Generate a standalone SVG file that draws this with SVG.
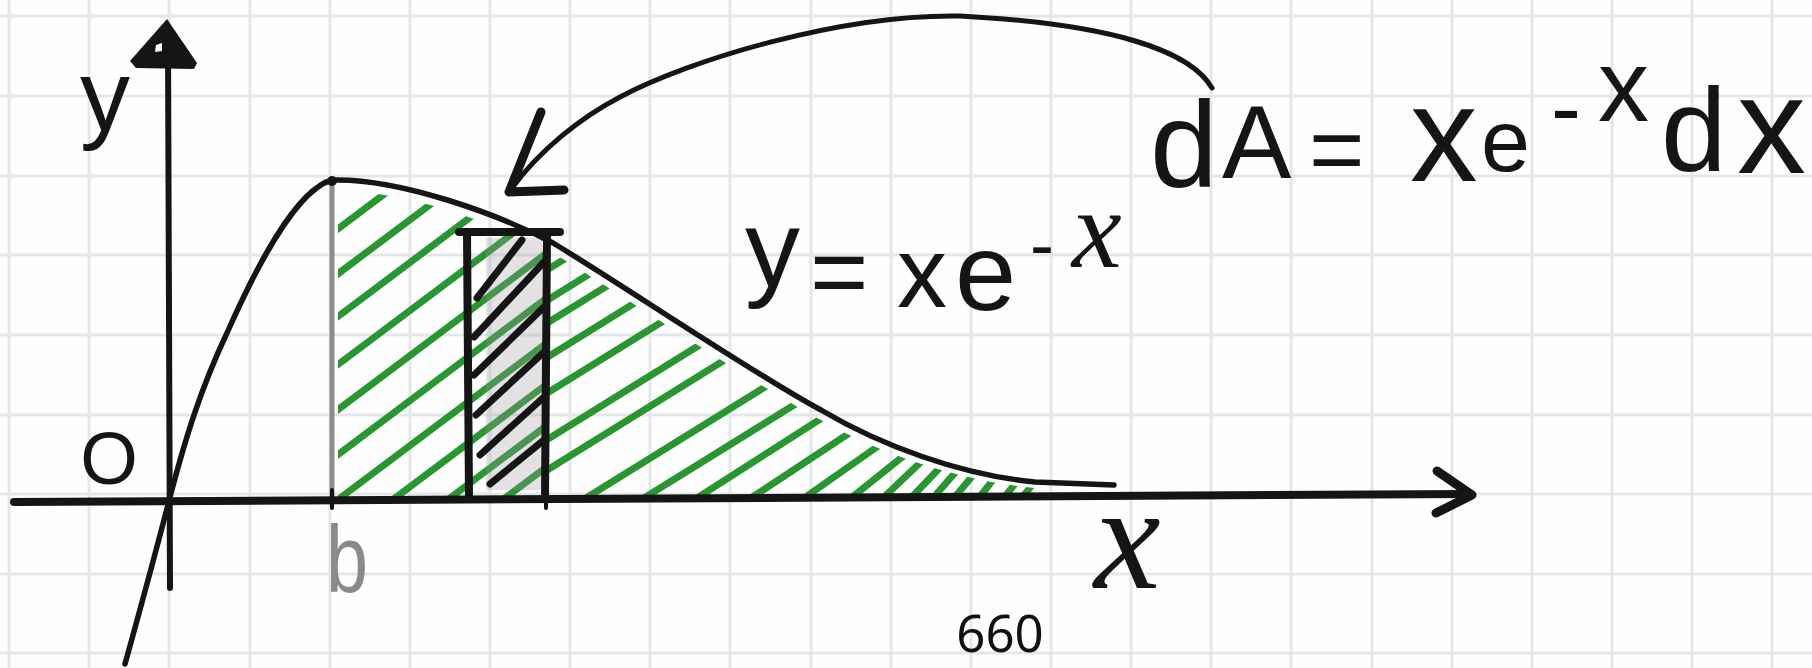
<svg xmlns="http://www.w3.org/2000/svg" width="1812" height="668" viewBox="0 0 1812 668">
<style>
.grid{stroke:#e3e7eb;stroke-width:3;fill:none}
.ink{stroke:#151515;fill:none;stroke-linecap:round;stroke-linejoin:round}
.hand{font-family:"Liberation Sans",Arial,sans-serif;fill:#151515}
.curly{font-family:"Liberation Serif","Times New Roman",serif;font-style:italic;fill:#151515}
.green{stroke:#2a9632;stroke-width:7;stroke-linecap:round;fill:none}
</style>
<defs>
<clipPath id="under">
<path d="M338 497 L338 192 C400 188 500 225 553 253 C615 290 760 388 821 420 C880 454 960 481 1035 488 L1060 490 L1060 497 Z"/>
</clipPath>
<clipPath id="leftpart"><rect x="330" y="150" width="218" height="360"/></clipPath>
<clipPath id="rightpart"><rect x="547" y="150" width="530" height="360"/></clipPath>
</defs>
<rect width="1812" height="668" fill="#fefefe"/>
<g id="grid" class="grid">
<path d="M9 0V668M89 0V668M169 0V668M250 0V668M330 0V668M410 0V668M490 0V668M570 0V668M650 0V668M730 0V668M811 0V668M891 0V668M971 0V668M1051 0V668M1131 0V668M1211 0V668M1291 0V668M1372 0V668M1452 0V668M1532 0V668M1612 0V668M1692 0V668M1772 0V668"/>
<path d="M0 16H1812M0 96H1812M0 176H1812M0 255H1812M0 335H1812M0 415H1812M0 494H1812M0 574H1812M0 653H1812"/>
</g>
<g id="shading" clip-path="url(#under)">
<g clip-path="url(#leftpart)">
<path class="green" d="M-21 498l420 -315M39 498l420 -315M96 498l420 -315M160 498l420 -315M220 498l420 -315M280 498l420 -315M340 498l420 -315M395 498l420 -315M450 498l420 -315M505 498l420 -315"/>
</g>
<g clip-path="url(#rightpart)">
<path class="green" d="M179 498l513 -318M228 498l513 -318M265 498l513 -318M320 498l513 -318M378 498l513 -318M453 498l513 -318M502 498l513 -318M586 498l513 -318M644 498l513 -318M697 498l497 -318M751 498l482 -318M804 498l454 -318M851 498l200 -160M883 498l120 -114M911 498l100 -105M933 498l80 -92M954 498l70 -84M979 498l60 -78M1004 498l50 -65M1022 498l40 -52"/>
</g>
</g>
<g id="b-line">
<path d="M332 182 L332 498" stroke="#8d8d8d" stroke-width="5" fill="none"/>
</g>
<g id="strip">
<rect x="486" y="238" width="56" height="252" fill="#9d97a0" opacity="0.28"/>
<path class="ink" stroke-width="7" d="M477 298L522 240M474 337L544 262M474 375L544 307M476 415L544 352M480 455L544 397M490 484L544 440"/>
<path class="ink" stroke-width="8" d="M459 232L560 232M467 232L469 498M547 232L545 498"/>
</g>
<g id="axes">
<path class="ink" stroke-width="8" d="M14 502L1470 494"/>
<path class="ink" stroke-width="9" d="M1437 471L1472 495L1436 513"/>
<path class="ink" stroke-width="6" d="M168 40L170 588"/>
<polygon points="167,19 130,61 136,68 194,69 197,63" fill="#151515"/>
<polygon points="156,45 162,43 162,51 155,52" fill="#fefefe"/>
<path class="ink" stroke-width="4" d="M332 490V508M546 494V508"/>
</g>
<g id="curve">
<path class="ink" stroke-width="5.5" d="M125 664 C140 610 155 555 170 497 C185 440 200 390 227 333 C255 270 295 190 332 180 C400 178 500 215 553 243 C615 280 760 378 821 410 C880 445 960 475 1035 482 L1114 485"/>
<circle cx="332" cy="181" r="5" fill="#151515"/>
</g>
<g id="connectors">
<path class="ink" stroke-width="5" d="M1212 88 C1190 50 1110 24 960 16 C840 14 690 60 620 97 C580 118 540 150 512 188"/>
<path class="ink" stroke-width="9" d="M541 112L509 192L564 190"/>
</g>
<g id="label-y"><text class="hand" x="80" y="130" font-size="100">y</text></g>
<g id="label-origin"><text class="hand" x="109" y="484" font-size="74" text-anchor="middle">O</text></g>
<g id="label-b"><text x="347" y="592" font-family="'Liberation Sans',Arial,sans-serif" font-size="94" text-anchor="middle" fill="#8a8a8a" textLength="42" lengthAdjust="spacingAndGlyphs">b</text></g>
<g id="label-x"><text class="curly" x="1094" y="588" font-size="150">x</text></g>
<g id="label-curve"><text class="hand" font-size="100"><tspan x="745" y="286" font-size="110">y</tspan><tspan x="810" y="306">=</tspan><tspan x="897" y="307">x</tspan><tspan x="955" y="310" font-size="110">e</tspan><tspan x="1030" y="269" font-size="72">-</tspan><tspan x="1072" y="267" font-size="112" style="font-family:'Liberation Serif',serif;font-style:italic">x</tspan></text></g>
<g id="label-dA"><text class="hand" font-size="100"><tspan x="1150" y="187" font-size="122">d</tspan><tspan x="1222" y="178" font-size="104">A</tspan><tspan x="1309" y="182" font-size="95">=</tspan><tspan x="1410" y="181" font-size="135">x</tspan><tspan x="1481" y="171" font-size="88">e</tspan><tspan x="1551" y="139" font-size="90">-</tspan><tspan x="1598" y="121" font-size="102">x</tspan><tspan x="1661" y="171" font-size="118">d</tspan><tspan x="1737" y="173" font-size="138">x</tspan></text></g>
<g id="page-number"><text x="1000" y="652" font-family="'Noto Sans',sans-serif" font-size="51" text-anchor="middle" fill="#111">660</text></g>
</svg>
